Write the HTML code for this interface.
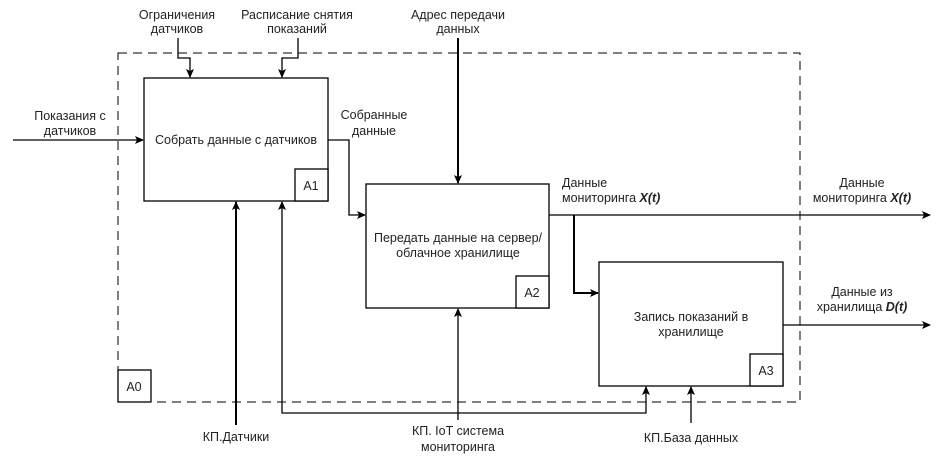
<!DOCTYPE html>
<html><head><meta charset="utf-8"><style>
body{margin:0;background:#fff}
text{font-family:"Liberation Sans",sans-serif;font-size:12.5px;fill:#222}
</style></head><body>
<svg width="943" height="460" viewBox="0 0 943 460" xmlns="http://www.w3.org/2000/svg">
<defs><marker id="a" markerWidth="10" markerHeight="10" refX="8" refY="4" orient="auto" markerUnits="userSpaceOnUse"><path d="M0,0 L9,4 L0,8 L2,4 z" fill="#000"/></marker></defs>
<rect x="118" y="53" width="682" height="349" fill="none" stroke="#000" stroke-dasharray="9,6" stroke-width="1"/>
<g fill="#fff" stroke="#000" stroke-width="1.3">
<rect x="144" y="78" width="184" height="123"/><rect x="295" y="169" width="33" height="32"/>
<rect x="366" y="184" width="183" height="124"/><rect x="516" y="276" width="33" height="32"/>
<rect x="599" y="262" width="184" height="124"/><rect x="750" y="354" width="33" height="32"/>
<rect x="118" y="370" width="33" height="32"/>
</g>
<g fill="none" stroke="#000" stroke-width="1.3" marker-end="url(#a)">
<path d="M13,140 H143"/>
<path d="M178,38 V58 H190 V77"/>
<path d="M298,38 V58 H282 V77"/>
<path d="M328,140 H349 V215 H365"/>
<path d="M458,38 V183" stroke-width="2"/>
<path d="M236,425 V202" stroke-width="2"/>
<path d="M282,390 V202"/>
<path d="M282,390 V413 H646 V387"/>
<path d="M458,420 V309"/>
<path d="M691,423 V387"/>
<path d="M549,215 H930"/>
<path d="M574,215 V293 H598" stroke-width="2"/>
<path d="M783,325 H930"/>
</g>
<text x="236" y="144" text-anchor="middle">Собрать данные с датчиков</text>
<text x="458" y="242" text-anchor="middle">Передать данные на сервер/</text>
<text x="458" y="257" text-anchor="middle">облачное хранилище</text>
<text x="691" y="321" text-anchor="middle">Запись показаний в</text>
<text x="691" y="336" text-anchor="middle">хранилище</text>
<text x="311" y="190" text-anchor="middle">A1</text>
<text x="532" y="297" text-anchor="middle">A2</text>
<text x="766" y="375" text-anchor="middle">A3</text>
<text x="134" y="391" text-anchor="middle">A0</text>
<g fill="#444">
<text x="177" y="19" text-anchor="middle">Ограничения</text>
<text x="177" y="33" text-anchor="middle">датчиков</text>
<text x="297" y="19" text-anchor="middle">Расписание снятия</text>
<text x="297" y="33" text-anchor="middle">показаний</text>
<text x="458" y="19" text-anchor="middle">Адрес передачи</text>
<text x="458" y="33" text-anchor="middle">данных</text>
<text x="70" y="120" text-anchor="middle">Показания с</text>
<text x="70" y="135" text-anchor="middle">датчиков</text>
<text x="374" y="119" text-anchor="middle">Собранные</text>
<text x="374" y="135" text-anchor="middle">данные</text>
<text x="562" y="187">Данные</text>
<text x="562" y="202">мониторинга <tspan font-weight="bold" font-style="italic">X(t)</tspan></text>
<text x="862" y="187" text-anchor="middle">Данные</text>
<text x="862" y="202" text-anchor="middle">мониторинга <tspan font-weight="bold" font-style="italic">X(t)</tspan></text>
<text x="862" y="296" text-anchor="middle">Данные из</text>
<text x="862" y="311" text-anchor="middle">хранилища <tspan font-weight="bold" font-style="italic">D(t)</tspan></text>
<text x="236" y="441" text-anchor="middle">КП.Датчики</text>
<text x="458" y="435" text-anchor="middle">КП. IoT система</text>
<text x="458" y="451" text-anchor="middle">мониторинга</text>
<text x="691" y="442" text-anchor="middle">КП.База данных</text>
</g>
</svg>
</body></html>
